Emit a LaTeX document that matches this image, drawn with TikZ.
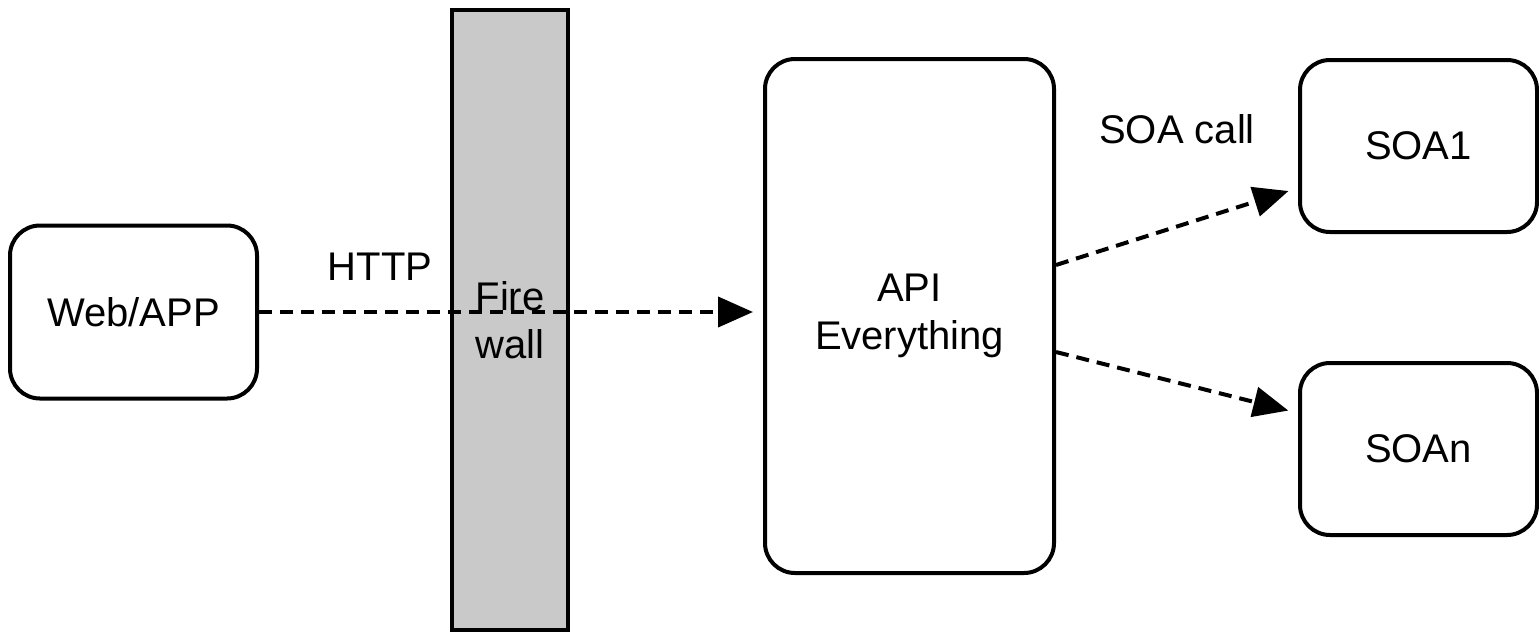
\documentclass[tikz,border=0pt]{standalone}
\usepackage{fontspec}
\setmainfont{Liberation Sans}
\usetikzlibrary{arrows.meta}
\definecolor{wallgray}{HTML}{C9C9C9}
\begin{document}
\begin{tikzpicture}[x=1pt,y=-1pt,
  txt/.style={font=\fontsize{40}{48}\selectfont, align=center, inner sep=0pt},
  box/.style={txt, draw, line width=4pt, rounded corners=30pt},
  wallbox/.style={txt, draw, line width=4.5pt, fill=wallgray},
  flow/.style={line width=4pt, dash pattern=on 13pt off 8pt,
    -{Triangle[length=35pt,width=30pt]}, shorten >=10pt}
]
\useasboundingbox (0,0) rectangle (1539,633);
\node[wallbox, minimum width=116pt, minimum height=620pt] (fw) at (510,320) {Fire\\wall};
\node[box, minimum width=247pt, minimum height=173pt] (web) at (133.5,312) {Web/APP};
\node[box, minimum width=289pt, minimum height=514pt] (api) at (909.5,316) {API\\Everything};
\node[box, minimum width=237pt, minimum height=172pt] (soa1) at (1418.5,146) {SOA1};
\node[box, minimum width=237pt, minimum height=172pt] (soan) at (1418.5,449) {SOAn};
\draw[flow] (web.east) -- (web.east -| api.west)
  node[txt, pos=0.24, above=30pt] (http) {HTTP};
\draw[flow] ([yshift=51pt]api.east) -- ([yshift=-42pt]soa1.west);
\draw[flow] ([yshift=-36pt]api.east) -- ([yshift=36pt]soan.west);
\node[txt] (soacall) at (1177,129) {SOA call};
\end{tikzpicture}
\end{document}
